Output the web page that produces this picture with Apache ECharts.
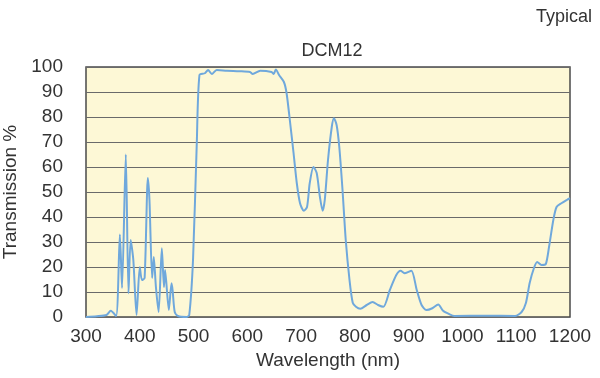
<!DOCTYPE html>
<html>
<head>
<meta charset="utf-8">
<script src="https://cdn.jsdelivr.net/npm/echarts@6/dist/echarts.min.js"></script>
<style>
  html, body { margin: 0; padding: 0; background: #fff; }
  #chart { width: 600px; height: 378px; }
</style>
</head>
<body>
<div id="chart"></div>
<script>
// wavelength (nm) / transmission (%)
var wavelengths = [300, 320, 338, 346, 356, 363, 367, 374, 379, 383, 388, 394, 400, 404, 409, 415, 418, 423, 426, 430,
  435, 441, 445, 447, 454, 459, 461, 465, 471, 487, 492, 499, 506, 511, 521, 527, 534, 543, 562, 585,
  605, 610, 624, 645, 649, 653, 659, 668, 673, 679, 686, 692, 698, 705, 711, 716, 723, 729, 735, 740,
  744, 750, 757, 761, 766, 771, 777, 783, 790, 796, 802, 810, 822, 833, 843, 853, 865, 877, 885, 893,
  905, 915, 924, 933, 944, 955, 964, 975, 985, 1045, 1098, 1110, 1118, 1125, 1133, 1139, 1147, 1155, 1161, 1169,
  1175, 1184, 1194, 1200];
var transmission = [0, 0.3, 0.8, 2.5, 0.4, 33, 11.6, 65, 9.5, 30.8, 22.8, 0.8, 20, 14.8, 15.6, 55.6, 46.8, 15.6, 24, 12,
  2, 27.5, 12, 18.8, 2.8, 13.5, 10.8, 2, 0.4, 0, 0.8, 22.8, 69.6, 96.8, 97.5, 98.8, 97.2, 98.8, 98.5, 98.3,
  98, 97.2, 98.5, 98, 97.2, 99, 96.8, 94, 89.5, 78.8, 65.5, 53.5, 45.5, 42.5, 44, 53.5, 60, 57.6, 48, 42.5,
  46.8, 62.8, 76, 79.5, 76.8, 68, 50.8, 30.8, 14.8, 5.7, 4.1, 3.3, 4.8, 6, 4.8, 4.1, 10.8, 16.8, 18.5, 17.5,
  18.5, 10.8, 4.8, 2.8, 3.5, 5, 2.5, 1.2, 0.4, 0.5, 0.4, 2, 5.6, 13.6, 19.6, 22, 20.8, 21.2, 28, 38.8,
  44, 45.5, 46.8, 47.5];

var chartTitle = 'DCM12';
var cornerNote = 'Typical';
var xName = 'Wavelength (nm)';
var yName = 'Transmission %';

var points = wavelengths.map(function (w, i) { return [w, transmission[i]]; });

var font = '"Liberation Sans", Arial, sans-serif';
var myChart = echarts.init(document.getElementById('chart'), null, { renderer: 'canvas' });

var option = {
  animation: false,
  title: [
    { text: chartTitle, left: 327, top: 37, textAlign: 'center',
      textStyle: { fontFamily: font, fontSize: 18, fontWeight: 'normal', color: '#333' } },
    { text: cornerNote, right: 3, top: 3,
      textStyle: { fontFamily: font, fontSize: 18, fontWeight: 'normal', color: '#333' } }
  ],
  grid: {
    left: 86, right: 30, top: 67, bottom: 61,
    containLabel: false, outerBoundsMode: 'none',
    show: true, backgroundColor: '#fdf8d6', borderColor: '#4a4a4a', borderWidth: 1.5
  },
  xAxis: {
    type: 'value', min: 300, max: 1200, interval: 100,
    name: xName, nameLocation: 'middle', nameGap: 32,
    nameTextStyle: { fontFamily: font, fontSize: 19, color: '#333' },
    axisLine: { show: false }, axisTick: { show: false }, splitLine: { show: false },
    axisLabel: { fontFamily: font, fontSize: 19, color: '#333', margin: 10,
      formatter: function (v) { return String(v); } }
  },
  yAxis: {
    type: 'value', min: 0, max: 100, interval: 10,
    name: yName, nameLocation: 'middle', nameGap: 64,
    nameTextStyle: { fontFamily: font, fontSize: 19, color: '#333' },
    axisLine: { show: false }, axisTick: { show: false },
    splitLine: { lineStyle: { color: '#6a6a6a', width: 1.2 } },
    axisLabel: { fontFamily: font, fontSize: 19, color: '#333', margin: 23 }
  },
  series: [{
    type: 'line',
    data: points,
    showSymbol: false,
    smooth: 0.25,
    lineStyle: { color: '#6fa8dc', width: 2 }
  }]
};

myChart.setOption(option);
window.addEventListener('resize', myChart.resize);
</script>
</body>
</html>
